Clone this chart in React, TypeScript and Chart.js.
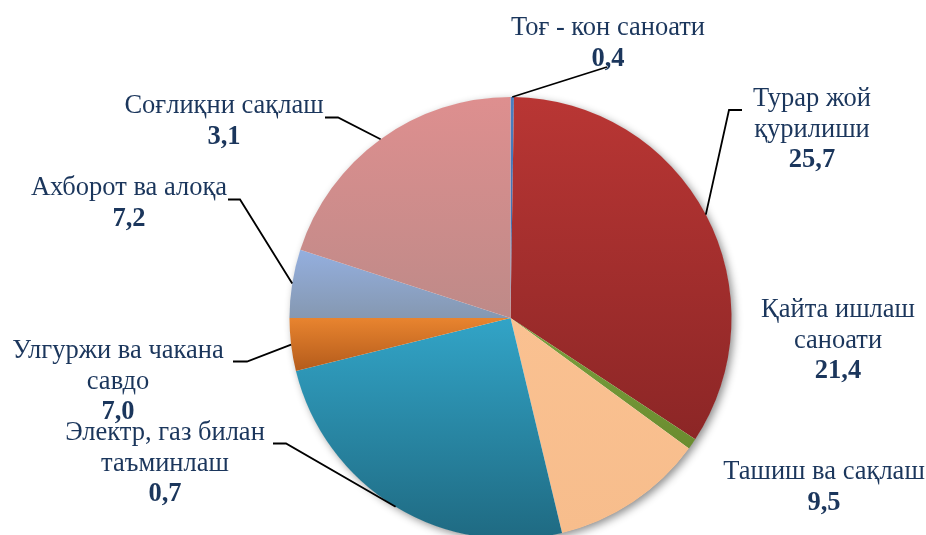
import { useEffect, useRef } from 'react';
import { Chart, registerables } from 'chart.js';

Chart.register(...registerables);

// ---- data ----
const categories = [
  'Тоғ - кон саноати',
  'Турар жой қурилиши',
  'Қайта ишлаш саноати',
  'Ташиш ва сақлаш',
  'Электр, газ билан таъминлаш',
  'Улгуржи ва чакана савдо',
  'Ахборот ва алоқа',
  'Соғлиқни сақлаш',
];
// shares of the pie (%)
const sliceShares = [0.25, 34.0, 0.8, 11.2, 24.9, 3.85, 5.0, 20.0];
// value texts printed in the labels
const labelValues = ['0,4', '25,7', '21,4', '9,5', '0,7', '7,0', '7,2', '3,1'];
// how category names wrap in the labels
const labelLines = [
  ['Тоғ - кон саноати'],
  ['Турар жой', 'қурилиши'],
  ['Қайта ишлаш', 'саноати'],
  ['Ташиш ва сақлаш'],
  ['Электр, газ билан', 'таъминлаш'],
  ['Улгуржи ва чакана', 'савдо'],
  ['Ахборот ва алоқа'],
  ['Соғлиқни сақлаш'],
];

// ---- styles ----
const gradTop = ['#4A7EC0', '#B93634', '#7AA03E', '#FAC191', '#32A4C7', '#E8842F', '#94AFDF', '#DE8F8F'];
const gradBottom = ['#3B6BAE', '#8C2626', '#6A8C2F', '#F7BD8C', '#1F6A82', '#B45B1B', '#8598B1', '#BE8A88'];
const TEXT_COLOR = '#1B365C';
const FONT_FAMILY = '"Liberation Serif", "Times New Roman", serif';
const FONT_SIZE = 26.5;
const LINE_H = 30.5;

// label placement (center x, first baseline y) and leader line start / elbow
const labelLayout = [
  { cx: 608, y: 35, line: [[607, 67]] },
  { cx: 812, y: 106, line: [[742, 110], [729, 110]] },
  { cx: 838, y: 317, line: null },
  { cx: 824, y: 479, line: null },
  { cx: 165, y: 440, line: [[273, 443.5], [286, 443.5]] },
  { cx: 118, y: 358, line: [[233, 361.5], [247, 361.5]] },
  { cx: 129, y: 195, line: [[228, 199.5], [240, 199.5]] },
  { cx: 224, y: 113, line: [[325, 117.5], [338, 117.5]] },
];

const CANVAS_W = 926;
const CANVAS_H = 560;

function sliceGradient(ctx: any) {
  const chart = ctx.chart;
  const i = ctx.dataIndex;
  const area = chart.chartArea;
  if (!area || i === undefined) return gradTop[i ?? 0];
  const cx = (area.left + area.right) / 2;
  const cy = (area.top + area.bottom) / 2;
  const r = Math.min(area.right - area.left, area.bottom - area.top) / 2;
  const data: number[] = chart.data.datasets[0].data;
  const total = data.reduce((a, b) => a + b, 0);
  let before = 0;
  for (let k = 0; k < i; k++) before += data[k];
  const a0 = (before / total) * Math.PI * 2;
  const a1 = ((before + data[i]) / total) * Math.PI * 2;
  const ys = [cy, cy - r * Math.cos(a0), cy - r * Math.cos(a1)];
  if (a0 <= 0.0001) ys.push(cy - r);
  if (a0 <= Math.PI && a1 >= Math.PI) ys.push(cy + r);
  const yMin = Math.min(...ys);
  const yMax = Math.max(...ys);
  const g = chart.ctx.createLinearGradient(0, yMin, 0, yMax);
  g.addColorStop(0, gradTop[i]);
  g.addColorStop(1, gradBottom[i]);
  return g;
}

const shadowPlugin = {
  id: 'pieShadow',
  beforeDatasetsDraw(chart: any) {
    const arc = chart.getDatasetMeta(0).data[0];
    if (!arc) return;
    const { x, y, outerRadius } = arc.getProps(['x', 'y', 'outerRadius'], true);
    const c = chart.ctx;
    c.save();
    c.shadowColor = 'rgba(0,0,0,0.45)';
    c.shadowBlur = 9;
    c.shadowOffsetX = 3;
    c.shadowOffsetY = 3;
    c.fillStyle = '#ffffff';
    c.beginPath();
    c.arc(x, y, outerRadius - 0.5, 0, Math.PI * 2);
    c.fill();
    c.restore();
  },
};

const labelPlugin = {
  id: 'pieLabels',
  afterDatasetsDraw(chart: any) {
    const meta = chart.getDatasetMeta(0);
    const c = chart.ctx;
    c.save();
    meta.data.forEach((arc: any, i: number) => {
      const lay = labelLayout[i];
      const { x, y, startAngle, endAngle, outerRadius } = arc.getProps(
        ['x', 'y', 'startAngle', 'endAngle', 'outerRadius'],
        true
      );
      if (lay.line) {
        const mid = (startAngle + endAngle) / 2;
        const ex = x + Math.cos(mid) * outerRadius;
        const ey = y + Math.sin(mid) * outerRadius;
        c.strokeStyle = '#000000';
        c.lineWidth = 1.8;
        c.beginPath();
        c.moveTo(lay.line[0][0], lay.line[0][1]);
        for (let k = 1; k < lay.line.length; k++) c.lineTo(lay.line[k][0], lay.line[k][1]);
        c.lineTo(ex, ey);
        c.stroke();
      }
      c.fillStyle = TEXT_COLOR;
      c.textAlign = 'center';
      c.textBaseline = 'alphabetic';
      const lines = labelLines[i];
      c.font = `${FONT_SIZE}px ${FONT_FAMILY}`;
      lines.forEach((t, k) => c.fillText(t, lay.cx, lay.y + k * LINE_H));
      c.font = `bold ${FONT_SIZE}px ${FONT_FAMILY}`;
      c.fillText(labelValues[i], lay.cx, lay.y + lines.length * LINE_H);
    });
    c.restore();
  },
};

export default function App() {
  const ref = useRef<HTMLCanvasElement>(null);
  useEffect(() => {
    if (!ref.current) return;
    const chart = new Chart(ref.current, {
      type: 'pie',
      data: {
        labels: categories,
        datasets: [
          {
            data: sliceShares,
            backgroundColor: sliceGradient as any,
            borderWidth: 0,
          },
        ],
      },
      options: {
        responsive: false,
        animation: false,
        devicePixelRatio: 1,
        layout: { padding: { left: 289.5, right: CANVAS_W - 731.5, top: 97, bottom: CANVAS_H - 539 } },
        plugins: {
          legend: { display: false },
          tooltip: { enabled: false },
          title: { display: false },
        },
        events: [],
      },
      plugins: [shadowPlugin, labelPlugin],
    });
    return () => chart.destroy();
  }, []);
  return (
    <div style={{ position: 'absolute', left: 0, top: 0, width: CANVAS_W, height: 535, overflow: 'hidden', background: '#fff' }}>
      <canvas ref={ref} width={CANVAS_W} height={CANVAS_H} style={{ display: 'block', width: CANVAS_W, height: CANVAS_H }} />
    </div>
  );
}
